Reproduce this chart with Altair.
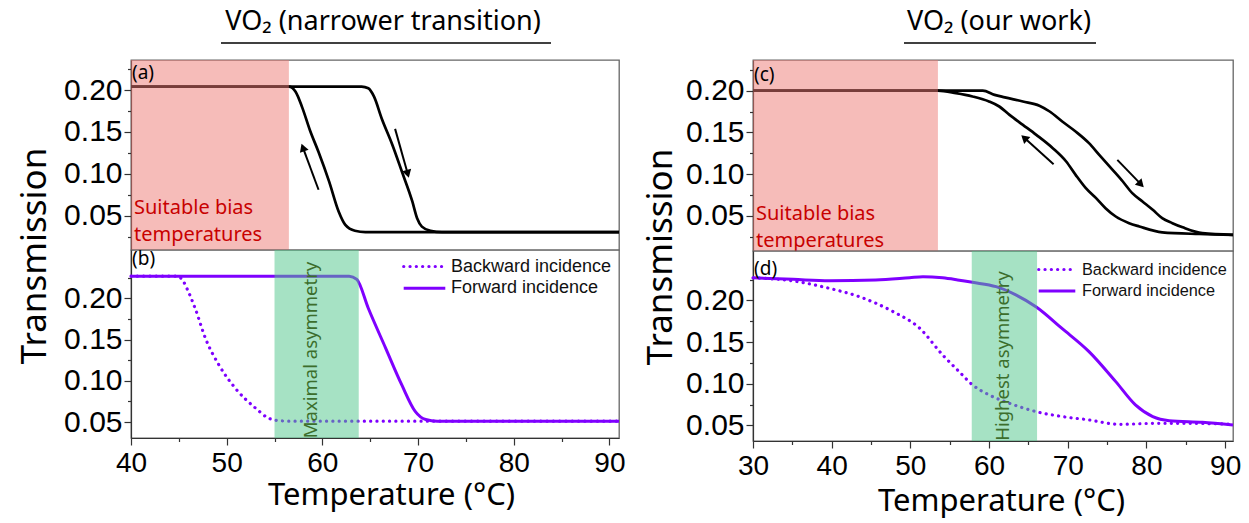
import math
import altair as alt
import pandas as pd

PURPLE = "#7f00ff"
PINK = "#ee7a73"
GREEN = "#4dc58a"
RED_TXT = "#c80000"
GREEN_TXT = "#3c6e2c"
SANS = "Noto Sans"
ARIAL = "Liberation Sans"

# ---------------- (a) narrow hysteresis loop ----------------
a_heat_T = [40, 64.1, 64.8, 65.4, 66.2, 67.3, 68.3, 69.4, 69.9, 70.4, 71.3, 72.5, 91]
a_heat_v = [0.204, 0.204, 0.202, 0.192, 0.166, 0.135, 0.103, 0.067, 0.047, 0.037, 0.032, 0.0305, 0.0305]
a_cool_T = [40, 56.5, 57.2, 57.9, 58.7, 59.6, 60.7, 61.7, 62.4, 63.4, 64.5, 91]
a_cool_v = [0.204, 0.204, 0.198, 0.179, 0.152, 0.126, 0.091, 0.055, 0.039, 0.032, 0.0305, 0.0305]
a_bias = [40, 56.5]
a_arrow_tail_T = [59.6, 67.6]
a_arrow_tail_v = [0.081, 0.1536]
a_arrow_tip_T = [57.8, 69.05]
a_arrow_tip_v = [0.1364, 0.0948]

# ---------------- (b) narrow transition, two incidences ----------------
b_back_T = [40, 44.8, 45.4, 46.0, 46.7, 47.8, 49.2, 50.9, 53.0, 54.4, 55.2, 56.5, 91]
b_back_v = [0.227, 0.227, 0.222, 0.208, 0.188, 0.151, 0.119, 0.091, 0.067, 0.0545, 0.052, 0.051, 0.051]
b_fwd_T = [40, 62.8, 63.6, 64.8, 66.6, 68.3, 69.7, 70.8, 72.0, 91]
b_fwd_v = [0.227, 0.227, 0.223, 0.188, 0.140, 0.095, 0.063, 0.053, 0.051, 0.051]
b_asym = [55.0, 63.8]

# ---------------- (c) broad hysteresis loop ----------------
c_heat_T = [30, 53.5, 57.0, 59.2, 60.7, 62.0, 64.3, 66.4, 67.7, 69.3, 71.0, 72.7, 74.0,
            75.7, 77.0, 78.2, 79.5, 80.8, 82.0, 83.3, 84.6, 87.1, 91]
c_heat_v = [0.200, 0.200, 0.200, 0.200, 0.195, 0.192, 0.187, 0.182, 0.175, 0.163, 0.151, 0.137, 0.123,
            0.105, 0.091, 0.077, 0.067, 0.057, 0.047, 0.041, 0.036, 0.029, 0.027]
c_cool_T = [30, 53.5, 55.8, 57.9, 60.0, 61.3, 62.6, 64.3, 66.0, 68.1, 69.8, 71.0, 72.3, 73.6,
            74.8, 76.1, 77.8, 79.1, 82.0, 86.7, 91]
c_cool_v = [0.200, 0.200, 0.197, 0.193, 0.187, 0.181, 0.171, 0.159, 0.147, 0.131, 0.115, 0.099, 0.083, 0.071,
            0.059, 0.049, 0.041, 0.037, 0.030, 0.028, 0.027]
c_bias = [30, 53.5]
c_arrow_tail_T = [68.2, 76.3]
c_arrow_tail_v = [0.1116, 0.117]
c_arrow_tip_T = [64.05, 79.7]
c_arrow_tip_v = [0.147, 0.0837]

# ---------------- (d) broad transition, two incidences ----------------
d_fwd_T = [30, 35.1, 39.7, 45.6, 49.9, 51.6, 54.1, 56.0, 57.9, 60.9, 63.4, 66.0, 69.3, 72.7,
           76.1, 78.6, 80.8, 82.9, 87.1, 91]
d_fwd_v = [0.227, 0.2252, 0.2236, 0.2244, 0.2272, 0.2284, 0.227, 0.2245, 0.2216, 0.2164, 0.2065, 0.192,
           0.166, 0.1385, 0.1025, 0.0746, 0.0606, 0.0557, 0.0537, 0.0506]
d_back_T = [30, 35.1, 39.7, 43.5, 47.8, 51.2, 54.1, 56.2, 57.9, 60.0, 62.6, 66.0, 69.3, 72.7,
            76.5, 81.2, 85.4, 91]
d_back_v = [0.227, 0.2233, 0.2144, 0.2044, 0.1865, 0.1664, 0.1345, 0.1145, 0.0986, 0.0866, 0.0765,
            0.0665, 0.0606, 0.0566, 0.0513, 0.0525, 0.0525, 0.0513]
d_asym = [57.8, 66.1]

# axis tick positions (majors labelled, minors unlabelled)
y_ticks = [0.025, 0.05, 0.075, 0.1, 0.125, 0.15, 0.175, 0.2, 0.225]
x_ticks_left = [40, 45, 50, 55, 60, 65, 70, 75, 80, 85, 90]
x_ticks_right = [30, 35, 40, 45, 50, 55, 60, 65, 70, 75, 80, 85, 90]

# panel geometry (plot area, px) and domains
AW, AH = 488, 190
BW, BH = 488, 188
CW, CH = 480, 191
DW, DH = 480, 190
XL = [40, 91]
XR = [30, 91]
YA = [0.0091, 0.2358]
YB = [0.0306, 0.2587]
YC = [0.0076, 0.2368]
YD = [0.0313, 0.2592]


def y_axis():
    return alt.Axis(
        values=y_ticks, grid=False, title=None,
        labelExpr="round(datum.value*1000) % 50 == 0 ? format(datum.value, '.2f') : ''",
        tickSize={"condition": {"test": "round(datum.value*1000) % 50 != 0", "value": 3.5}, "value": 7},
        labelFont=ARIAL, labelFontSize=30, labelColor="black", labelPadding=2,
        tickColor="#333", tickWidth=1.2, domainColor="#333", domainWidth=1.2,
        labelOverlap=False,
    )


def x_axis(values, title_x, title_y):
    return alt.Axis(
        values=values, grid=False, format="d",
        labelExpr="datum.value % 10 == 0 ? datum.label : ''",
        tickSize={"condition": {"test": "datum.value % 10 != 0", "value": 3.5}, "value": 7},
        labelFont=ARIAL, labelFontSize=28, labelColor="black", labelPadding=4,
        labelFlush=False, labelOverlap=False,
        tickColor="#333", tickWidth=1.2, domainColor="#333", domainWidth=1.2,
        title="Temperature (°C)", titleFont=SANS, titleFontSize=31, titleFontWeight="normal",
        titleColor="black", titleX=title_x, titleY=title_y, titleBaseline="alphabetic",
        titleAlign="center", titleAnchor="middle",
    )


def enc_x(dom, axis):
    return alt.X("T:Q", scale=alt.Scale(domain=dom, nice=False, zero=False), axis=axis)


def enc_y(dom):
    return alt.Y("v:Q", scale=alt.Scale(domain=dom, nice=False, zero=False), axis=y_axis())


def series(T, v, name):
    return pd.DataFrame({"T": T, "v": v, "branch": name})


def arrows(tT, tv, hT, hv, W, H, xd, yd):
    sx = W / (xd[1] - xd[0])
    sy = H / (yd[1] - yd[0])
    shafts, heads = [], []
    for a, b, c, d in zip(tT, tv, hT, hv):
        dx = (c - a) * sx
        dy = -(d - b) * sy
        L = math.hypot(dx, dy)
        ux, uy = dx / L, dy / L
        cT = c - 4.5 * ux / sx
        cv = d + 4.5 * uy / sy
        ang = math.degrees(math.atan2(dx, -dy)) % 360
        shafts.append({"T": a, "v": b, "T2": c - 3 * ux / sx, "v2": d + 3 * uy / sy})
        heads.append({"T": cT, "v": cv, "ang": ang})
    return pd.DataFrame(shafts), pd.DataFrame(heads)


one = pd.DataFrame({"k": [0]})


def text_layer(txt, x, y, **kw):
    return alt.Chart(one).mark_text(**kw).encode(x=alt.value(x), y=alt.value(y), text=alt.value(txt))


def hysteresis_panel(heatT, heatv, coolT, coolv, bias, arr, W, H, xd, yd, label, label_y,
                     bias_y, title, title_x, underline, ytitle_x):
    ex = enc_x(xd, None)
    ey = enc_y(yd)
    curves = pd.concat([series(heatT, heatv, "heating"), series(coolT, coolv, "cooling")])
    lines = alt.Chart(curves).mark_line(color="black", strokeWidth=2.7, interpolate="monotone").encode(
        x=ex, y=ey, detail="branch:N")
    band = alt.Chart(pd.DataFrame({"T": [bias[0]], "T2": [bias[1]]})).mark_rect(
        color=PINK, opacity=0.5).encode(x=ex, x2="T2", y=alt.value(0), y2=alt.value(H))
    shafts, heads = arr
    shaft = alt.Chart(shafts).mark_rule(color="black", strokeWidth=2).encode(
        x=ex, y=ey, x2="T2", y2="v2")
    head = alt.Chart(heads).mark_point(shape="triangle-up", filled=True, size=85, color="black",
                                       opacity=1).encode(
        x=ex, y=ey, angle=alt.Angle("ang:Q", scale=None))
    bias_txt = text_layer(["Suitable bias", "temperatures"], 3, bias_y, align="left",
                          baseline="alphabetic", font=SANS, fontSize=20, color=RED_TXT, lineHeight=27)
    lab = text_layer(label, 1, label_y, align="left", baseline="alphabetic", font=SANS,
                     fontSize=19, color="black")
    ttl = text_layer(title, title_x, -30, align="center", baseline="alphabetic", font=SANS,
                     fontSize=27, color="black")
    uline = alt.Chart(one).mark_rule(color="black", strokeWidth=1.6).encode(
        x=alt.value(underline[0]), x2=alt.value(underline[1]), y=alt.value(-17))
    ytl = text_layer("Transmission", ytitle_x, H + 6, align="center", baseline="alphabetic",
                     font=SANS, fontSize=35, color="black", angle=270)
    return alt.layer(lines, band, shaft, head, bias_txt, lab, ttl, uline, ytl).properties(
        width=W, height=H)


def incidence_panel(backT, backv, fwdT, fwdv, asym, W, H, xd, yd, xaxis, label, label_y,
                    asym_txt, asym_x, asym_y, leg):
    ex = enc_x(xd, xaxis)
    ey = enc_y(yd)
    back = alt.Chart(series(backT, backv, "Backward incidence")).mark_line(
        color=PURPLE, strokeWidth=3.2, strokeDash=[0.1, 6.2], strokeCap="round",
        interpolate="monotone").encode(x=ex, y=ey)
    fwd = alt.Chart(series(fwdT, fwdv, "Forward incidence")).mark_line(
        color=PURPLE, strokeWidth=3, interpolate="monotone").encode(x=ex, y=ey)
    band = alt.Chart(pd.DataFrame({"T": [asym[0]], "T2": [asym[1]]})).mark_rect(
        color=GREEN, opacity=0.5).encode(x=ex, x2="T2", y=alt.value(0), y2=alt.value(H))
    atxt = text_layer(asym_txt, asym_x, asym_y, align="center", baseline="middle", font=SANS,
                      fontSize=18.5, color=GREEN_TXT, angle=270)
    lab = text_layer(label, 1, label_y, align="left", baseline="alphabetic", font=SANS,
                     fontSize=19, color="black")
    lx0, lx1, ly0, ly1, tx, fs = leg
    leg_dot = alt.Chart(one).mark_rule(color=PURPLE, strokeWidth=3.2, strokeDash=[0.1, 6.2],
                                       strokeCap="round").encode(
        x=alt.value(lx0), x2=alt.value(lx1), y=alt.value(ly0))
    leg_sol = alt.Chart(one).mark_rule(color=PURPLE, strokeWidth=3).encode(
        x=alt.value(lx0), x2=alt.value(lx1), y=alt.value(ly1))
    leg_t1 = text_layer("Backward incidence", tx, ly0, align="left", baseline="middle",
                        font=ARIAL, fontSize=fs, color="#111")
    leg_t2 = text_layer("Forward incidence", tx, ly1, align="left", baseline="middle",
                        font=ARIAL, fontSize=fs, color="#111")
    return alt.layer(back, fwd, band, atxt, lab, leg_dot, leg_sol, leg_t1, leg_t2).properties(
        width=W, height=H)


panel_a = hysteresis_panel(
    a_heat_T, a_heat_v, a_cool_T, a_cool_v, a_bias,
    arrows(a_arrow_tail_T, a_arrow_tail_v, a_arrow_tip_T, a_arrow_tip_v, AW, AH, XL, YA),
    AW, AH, XL, YA, "(a)", 19, 154, "VO₂ (narrower transition)", 252, [90, 420], -85)

panel_b = incidence_panel(
    b_back_T, b_back_v, b_fwd_T, b_fwd_v, b_asym, BW, BH, XL, YB,
    x_axis(x_ticks_left, 260, 66), "(b)", 15, "Maximal asymmetry", 180, 100,
    [272.7, 314.3, 16.5, 38.2, 320, 18])

panel_c = hysteresis_panel(
    c_heat_T, c_heat_v, c_cool_T, c_cool_v, c_bias,
    arrows(c_arrow_tail_T, c_arrow_tail_v, c_arrow_tip_T, c_arrow_tip_v, CW, CH, XR, YC),
    CW, CH, XR, YC, "(c)", 21, 160, "VO₂ (our work)", 246, [151, 343], -81)

panel_d = incidence_panel(
    d_back_T, d_back_v, d_fwd_T, d_fwd_v, d_asym, DW, DH, XR, YD,
    x_axis(x_ticks_right, 248, 69), "(d)", 24, "Highest asymmetry", 250, 105,
    [285.7, 322.3, 18.5, 40, 329, 16.3])

# stack each pair flush so the upper and lower frames touch
left = alt.vconcat(panel_a, panel_b, spacing=0, bounds="flush")
right = alt.vconcat(panel_c, panel_d, spacing=0, bounds="flush")

chart = alt.hconcat(left, right, spacing=16).properties(
    padding={"left": 17, "top": 7, "right": 0, "bottom": 3},
    background="white",
).configure_view(stroke="#666", strokeWidth=1.3, fill="white")

chart.save("out.html", embed_options={"renderer": "svg", "actions": False})
